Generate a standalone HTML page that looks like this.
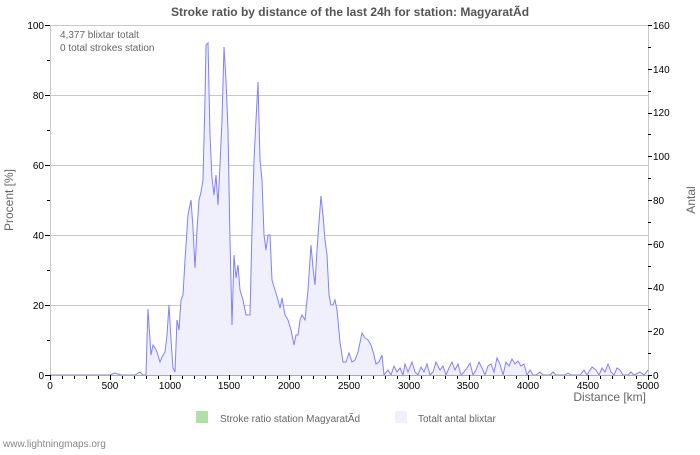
<!DOCTYPE html>
<html><head><meta charset="utf-8"><style>
body{margin:0;background:#fff;}
svg text{font-family:"Liberation Sans","DejaVu Sans",sans-serif;}
</style></head><body>
<svg id="s" width="700" height="450" xmlns="http://www.w3.org/2000/svg">
<rect width="700" height="450" fill="#fff"/>
<text x="350" y="16" text-anchor="middle" font-size="12" font-weight="bold" fill="#555">Stroke ratio by distance of the last 24h for station: MagyaratÃ­d</text>
<g stroke="#c8c8c8" stroke-width="1">
<line x1="50" y1="25.5" x2="648" y2="25.5"/>
<line x1="50" y1="95.5" x2="648" y2="95.5"/>
<line x1="50" y1="165.5" x2="648" y2="165.5"/>
<line x1="50" y1="235.5" x2="648" y2="235.5"/>
<line x1="50" y1="305.5" x2="648" y2="305.5"/>
<line x1="50.5" y1="25" x2="50.5" y2="375"/>
<line x1="648.5" y1="25" x2="648.5" y2="375"/>
</g>
<polygon id="area" fill="#f0f0fc" stroke="none"/>
<polyline id="line" fill="none" stroke="#8080ff" stroke-width="1"/>
<line x1="50" y1="375.5" x2="648" y2="375.5" stroke="#aaa"/>
<g id="ticks" stroke="#000" stroke-width="1"></g>
<g font-size="10" fill="#000" text-anchor="end">
<text x="44" y="29">100</text><text x="44" y="99">80</text><text x="44" y="169">60</text><text x="44" y="239">40</text><text x="44" y="309">20</text><text x="44" y="379">0</text>
</g>
<g font-size="10" fill="#000" text-anchor="start">
<text x="653" y="29">160</text><text x="653" y="73">140</text><text x="653" y="116">120</text><text x="653" y="160">100</text><text x="653" y="204">80</text><text x="653" y="248">60</text><text x="653" y="291">40</text><text x="653" y="335">20</text><text x="653" y="379">0</text>
</g>
<g font-size="10" fill="#000" text-anchor="middle">
<text x="50" y="389">0</text><text x="110" y="389">500</text><text x="170" y="389">1000</text><text x="229" y="389">1500</text><text x="289" y="389">2000</text><text x="349" y="389">2500</text><text x="409" y="389">3000</text><text x="468" y="389">3500</text><text x="528" y="389">4000</text><text x="588" y="389">4500</text><text x="648" y="389">5000</text>
</g>
<text x="60" y="38" font-size="10" fill="#666">4,377 blixtar totalt</text>
<text x="60" y="51" font-size="10" fill="#666">0 total strokes station</text>
<text x="646" y="401" font-size="12" fill="#666" text-anchor="end">Distance   [km]</text>
<text x="13" y="200" font-size="12" fill="#666" text-anchor="middle" transform="rotate(-90 13 200)">Procent   [%]</text>
<text x="695" y="200" font-size="12" fill="#666" text-anchor="middle" transform="rotate(-90 695 200)">Antal</text>
<rect x="196" y="411" width="12" height="12" fill="#b0e0a8"/>
<text x="220" y="422" font-size="10" fill="#666">Stroke ratio station MagyaratÃ­d</text>
<rect x="395" y="411" width="12" height="12" fill="#f0f0fc"/>
<text x="418" y="422" font-size="10" fill="#666">Totalt antal blixtar</text>
<text x="3" y="447" font-size="10" fill="#888">www.lightningmaps.org</text>
</svg>
<script>
var p=[[50,375],[110,375],[115,373],[118,374],[121,375],[135,375],[140,372],[143,375],[146,375],[147,340],[148,309],[150,340],[151,355],[153,345],[155,348],[157,352],[160,362],[162,357],[165,352],[167,335],[169,305],[171,340],[173,368],[175,372],[177,320],[179,330],[181,300],[183,295],[185,260],[188,215],[191,200],[193,228],[195,268],[197,230],[199,200],[201,192],[203,180],[205,100],[206,45],[208,43],[210,135],[212,178],[214,195],[216,175],[218,205],[220,165],[222,120],[224,47],[226,80],[228,130],[230,240],[232,325],[234,255],[236,278],[238,265],[240,290],[243,300],[246,315],[250,315],[252,230],[254,160],[256,120],[258,82],[260,160],[262,180],[264,235],[266,250],[268,235],[270,235],[272,280],[275,290],[278,300],[280,308],[282,298],[285,315],[288,320],[291,330],[294,345],[296,335],[298,335],[300,320],[302,315],[305,320],[308,290],[311,245],[313,268],[315,285],[317,250],[319,222],[321,196],[323,215],[325,240],[327,255],[329,295],[331,305],[333,305],[335,300],[337,310],[340,342],[343,362],[346,362],[349,353],[352,362],[355,360],[358,352],[362,333],[365,338],[368,340],[371,345],[374,355],[376,364],[379,362],[382,355],[384,375]];
var t=[[388,370],[391,375],[394,366],[397,372],[400,368],[403,375],[405,364],[408,372],[412,362],[415,372],[418,375],[421,367],[424,372],[427,364],[430,375],[433,372],[436,362],[440,370],[443,366],[446,375],[449,368],[452,362],[455,370],[458,364],[461,375],[464,372],[467,368],[470,363],[473,375],[476,370],[479,362],[482,368],[485,375],[488,366],[491,364],[494,372],[497,358],[500,364],[503,375],[506,362],[509,366],[512,359],[515,364],[518,361],[521,366],[524,364],[527,375],[530,370],[533,375],[536,375],[540,372],[543,375],[550,375],[553,372],[556,375],[565,375],[568,373],[571,375],[580,375],[584,370],[587,375],[592,367],[596,370],[599,375],[602,368],[605,372],[608,364],[611,372],[614,375],[617,368],[620,370],[623,375],[628,375],[631,372],[634,375],[640,372],[644,375],[648,370]];
p=p.concat(t);
var s=p.map(function(a){return a.join(',')}).join(' ');
document.getElementById('line').setAttribute('points',s);
document.getElementById('area').setAttribute('points',s+' 648,375 50,375');
var g=document.getElementById('ticks'),h='';
for(var i=0;i<=50;i++){var x=50+i*11.96;x=Math.round(x)+0.5;h+='<line x1="'+x+'" y1="'+(i%5==0?375:376)+'" x2="'+x+'" y2="'+(i%5==0?380:379)+'"/>';}
for(var j=0;j<6;j++){var y=375-j*70;h+='<line x1="45" y1="'+(y+.5)+'" x2="50" y2="'+(y+.5)+'"/>';h+='<line x1="47" y1="'+(y-35+.5)+'" x2="50" y2="'+(y-35+.5)+'"/>';}
for(var k=0;k<=16;k++){var y2=Math.round(375-k*21.875)+0.5;h+='<line x1="648" y1="'+y2+'" x2="'+(k%2==0?652:651)+'" y2="'+y2+'"/>';}
g.innerHTML=h;
</script>
</body></html>
